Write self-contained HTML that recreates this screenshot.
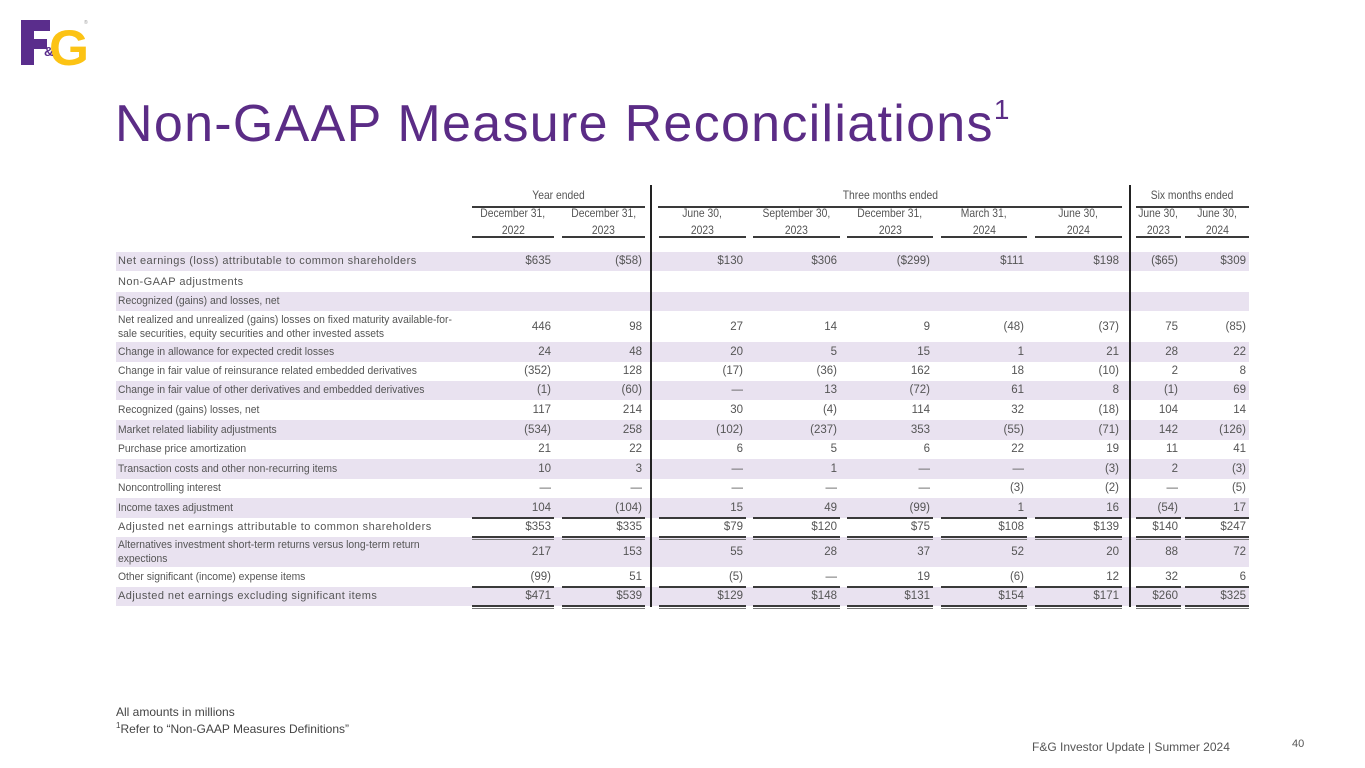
<!DOCTYPE html>
<html><head><meta charset="utf-8">
<style>
body{margin:0;width:1365px;height:768px;background:#fff;position:relative;overflow:hidden;font-family:"Liberation Sans",sans-serif;}
.a{position:absolute;white-space:nowrap;}
.hdr{font-size:12px;color:#555;text-align:center;line-height:17px;}
.hdr span{display:inline-block;transform:scaleX(0.86);transform-origin:center;}
.lbl{font-size:11px;color:#555;line-height:14px;transform:scaleX(0.94);transform-origin:left center;}
.lbl.sp{transform:none;font-size:11px;letter-spacing:0.45px;}
.val{font-size:11.5px;color:#555;text-align:right;}
.ln{position:absolute;background:#3a3a3a;}
</style></head>
<body>
<div class="a" style="left:20px;top:18px;width:72px;height:50px;">
<svg width="72" height="50" viewBox="0 0 72 50">
<path d="M1 2 H30 V13 H14 V21 H27 V31 H14 V47 H1 Z" fill="#5a2d8c"/>
<text x="29" y="47" font-family="Liberation Sans" font-weight="bold" font-size="50" fill="#fcc314" textLength="40" lengthAdjust="spacingAndGlyphs">G</text>
<text x="24" y="38" font-family="Liberation Sans" font-weight="bold" font-size="13" fill="#5a2d8c">&amp;</text>
<text x="64" y="6" font-family="Liberation Sans" font-size="5" fill="#999">®</text>
</svg></div>
<div class="a" style="left:115px;top:94px;font-size:52px;line-height:60px;color:#5b2c86;letter-spacing:1.3px;">Non-GAAP Measure Reconciliations<span style="font-size:28px;position:relative;top:-22px;">1</span></div>
<div id="tbl"></div>
<div class="a" style="left:116px;top:705px;font-size:12px;color:#444;">All amounts in millions</div>
<div class="a" style="left:116px;top:721px;font-size:12px;color:#444;"><sup style="font-size:8px;">1</sup>Refer to “Non-GAAP Measures Definitions”</div>
<div class="a" style="left:1032px;top:740px;font-size:12px;color:#555;">F&amp;G Investor Update | Summer 2024</div>
<div class="a" style="left:1292px;top:738px;font-size:11px;color:#555;">40</div>
<script>
const groups=["Year ended","Three months ended","Six months ended"];
const colHead1=["December 31,","December 31,","June 30,","September 30,","December 31,","March 31,","June 30,","June 30,","June 30,"];
const colHead2=["2022","2023","2023","2023","2023","2024","2024","2023","2024"];
const rowLabels=["Net earnings (loss) attributable to common shareholders","Non-GAAP adjustments","Recognized (gains) and losses, net","Net realized and unrealized (gains) losses on fixed maturity available-for-<br>sale securities, equity securities and other invested assets","Change in allowance for expected credit losses","Change in fair value of reinsurance related embedded derivatives","Change in fair value of other derivatives and embedded derivatives","Recognized (gains) losses, net","Market related liability adjustments","Purchase price amortization","Transaction costs and other non-recurring items","Noncontrolling interest","Income taxes adjustment","Adjusted net earnings attributable to common shareholders","Alternatives investment short-term returns versus long-term return<br>expections","Other significant (income) expense items","Adjusted net earnings excluding significant items"];
const rowValues=[
["$635","($58)","$130","$306","($299)","$111","$198","($65)","$309"],
[],[],
["446","98","27","14","9","(48)","(37)","75","(85)"],
["24","48","20","5","15","1","21","28","22"],
["(352)","128","(17)","(36)","162","18","(10)","2","8"],
["(1)","(60)","—","13","(72)","61","8","(1)","69"],
["117","214","30","(4)","114","32","(18)","104","14"],
["(534)","258","(102)","(237)","353","(55)","(71)","142","(126)"],
["21","22","6","5","6","22","19","11","41"],
["10","3","—","1","—","—","(3)","2","(3)"],
["—","—","—","—","—","(3)","(2)","—","(5)"],
["104","(104)","15","49","(99)","1","16","(54)","17"],
["$353","$335","$79","$120","$75","$108","$139","$140","$247"],
["217","153","55","28","37","52","20","88","72"],
["(99)","51","(5)","—","19","(6)","12","32","6"],
["$471","$539","$129","$148","$131","$154","$171","$260","$325"]];
const rowUnder=["","","","","","","","","","","","","single","double","","single","double"];
const spaced=[0,1,13,16];
const colL=[472,562,659,753,847,941,1035,1136,1185];
const colR=[554,645,746,840,933,1027,1122,1181,1249];
const grpL=[472,658,1136],grpR=[645,1122,1249];
const rowTop=[252,272,292,312,342,362,381,400,420,440,459,479,498,518,537,567,587];
const rowH=[19,20,19,30,20,19,19,20,20,19,20,19,20,19,30,20,19];
const shaded=[1,0,1,0,1,0,1,0,1,0,1,0,1,0,1,0,1];
const T=document.getElementById('tbl');
function mk(cls,css,html){const d=document.createElement('div');d.className=cls;d.style.cssText=css;if(html!==undefined)d.innerHTML=html;T.appendChild(d);return d;}
rowLabels.forEach((l,i)=>{
 if(shaded[i]){const b=mk('ln',`left:116px;top:${rowTop[i]}px;width:1133px;height:${rowH[i]}px;background:#e9e2f0;`);
 
 }
});
groups.forEach((g,i)=>{
 const d=mk('a hdr',`left:${grpL[i]}px;top:187px;width:${grpR[i]-grpL[i]}px;`,'<span>'+g+'</span>');
 
 
 const u=mk('ln',`left:${grpL[i]}px;top:206px;width:${grpR[i]-grpL[i]}px;height:1.5px;`);
 
 
});
colHead1.forEach((h,i)=>{
 const d=mk('a hdr',`left:${colL[i]-10}px;top:205px;width:${colR[i]-colL[i]+20}px;`,'<span>'+h+'</span><br><span>'+colHead2[i]+'</span>');
 
 
 const u=mk('ln',`left:${colL[i]}px;top:236px;width:${colR[i]-colL[i]}px;height:1.5px;`);
 
 
});
rowLabels.forEach((l,i)=>{
 const two=rowH[i]>25;
 const lh=two?14:rowH[i];
 const d=mk('a lbl'+(spaced.includes(i)?' sp':''),`left:118px;top:${rowTop[i]+(two?1:0)}px;line-height:${lh}px;`,l);
 
 
 rowValues[i].forEach((v,j)=>{
  const c=mk('a val',`left:${colL[j]-20}px;width:${colR[j]-colL[j]+17}px;top:${rowTop[i]}px;line-height:${rowH[i]}px;`,v);
  
  
 });
 if(rowUnder[i]){
  colL.forEach((x,j)=>{
   const y=rowTop[i]+rowH[i]-1;
   const u=mk('ln',`left:${x}px;top:${y}px;width:${colR[j]-x}px;height:1.5px;`);
   
   
   if(rowUnder[i]=='double'){const u2=mk('ln',`left:${x}px;top:${y+3}px;width:${colR[j]-x}px;height:1px;background:#777;`);
   
   }
  });
 }
});
[650,1129].forEach(x=>{const v=mk('ln',`left:${x}px;top:185px;width:1.5px;height:422px;background:#222;`);

});
</script>
</body></html>
